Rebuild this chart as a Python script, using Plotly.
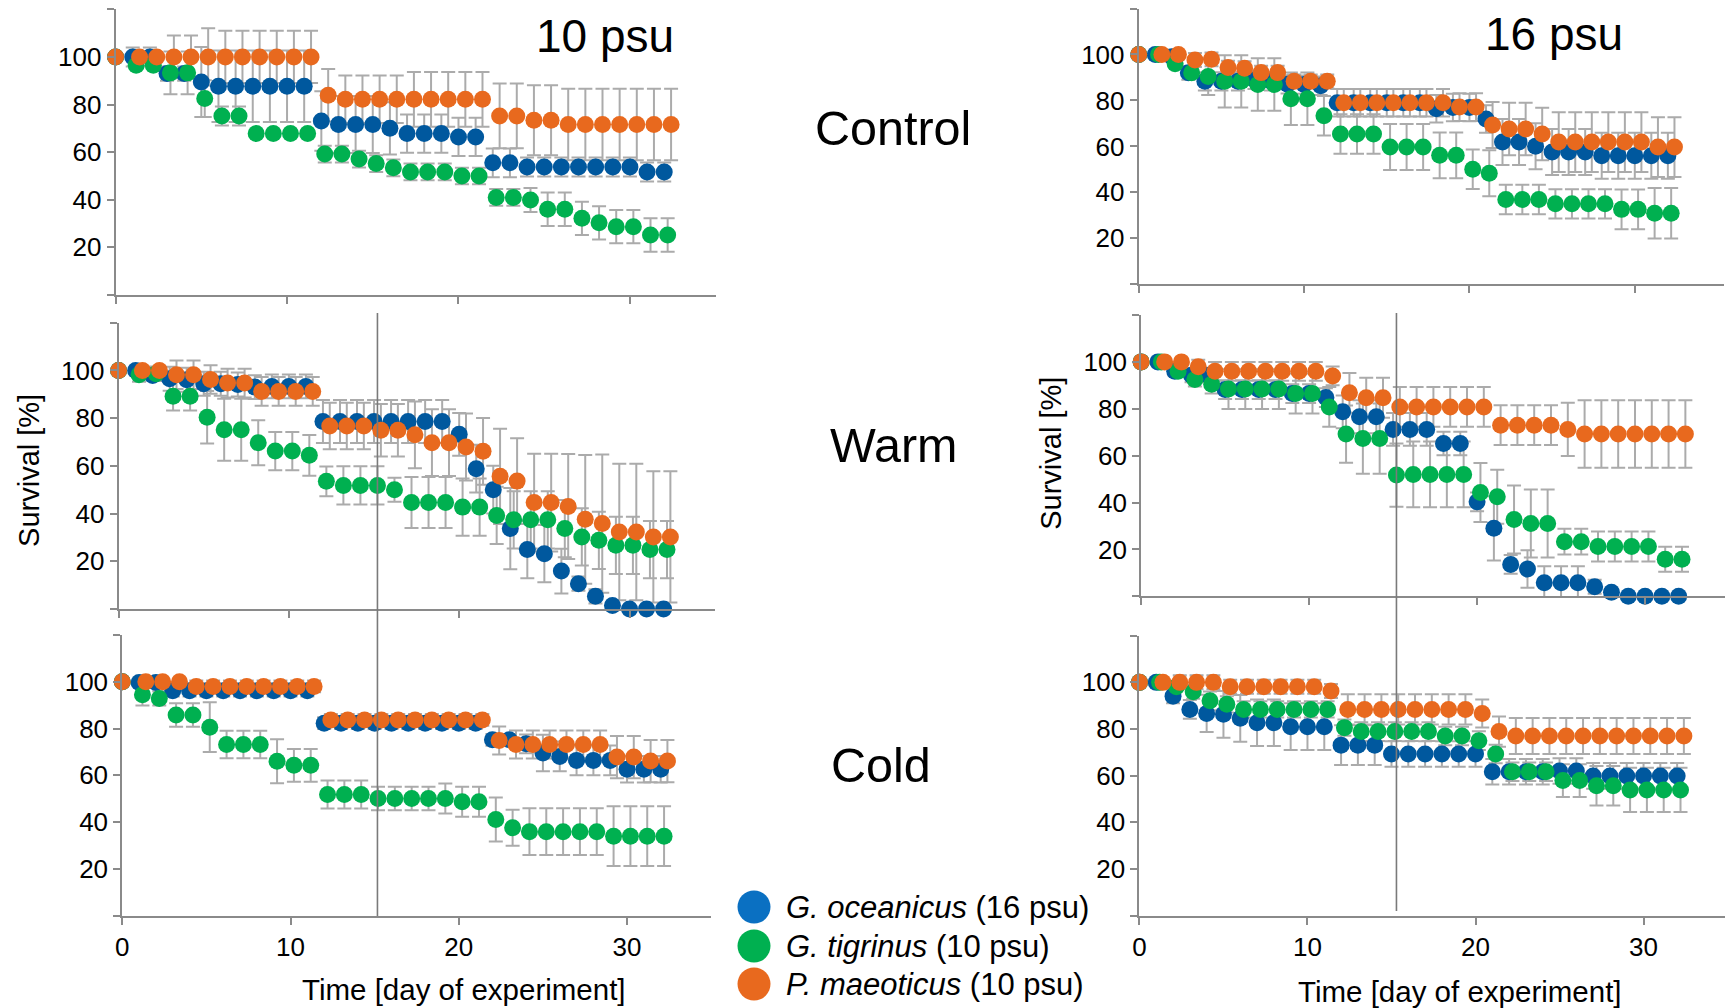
import plotly.graph_objects as go

W, H = 1733, 1008
# the page body adds a small offset; positions below are in target-image pixels
OX, OY = 10, 8

DAYS = list(range(33))
SPECIES = ["G. oceanicus (16 psu)", "G. tigrinus (10 psu)", "P. maeoticus (10 psu)"]
DAY_OFFSET = [0.0, 0.2, 0.4]

# ---------------- Control, 10 psu ----------------
C10_OCE = [100, 100, 100, 93, 93, 89.5, 87.7, 87.7, 87.7, 87.7, 87.7, 87.7, 73.1, 71.6, 71.6, 71.6, 70, 67.8, 67.8, 67.8, 66.4, 66.4, 55.5, 55.5, 53.8, 53.8, 53.8, 53.8, 53.8, 53.8, 53.8, 51.7, 51.7]
C10_TIG = [100, 96.5, 96.5, 93.3, 93.3, 82.5, 75.2, 75.2, 67.8, 67.8, 67.8, 67.8, 59.2, 59.2, 57.1, 55.2, 53.4, 51.7, 51.7, 51.7, 50, 50, 41, 41, 39.9, 36, 36, 32.2, 30.3, 28.7, 28.7, 25.2, 25.2]
C10_MAE = [100, 100, 100, 100, 100, 100, 100, 100, 100, 100, 100, 100, 83.9, 82.2, 82.2, 82.2, 82.2, 82.2, 82.2, 82.2, 82.2, 82.2, 75.2, 75.2, 73.4, 73.4, 71.6, 71.6, 71.6, 71.6, 71.6, 71.6, 71.6]
C10_OCE_ERR = [0, 4, 4, 3, 3, 14.7, 15, 15, 15, 15, 15, 15, 12.5, 12, 12, 12, 11, 8, 8, 8, 8, 8, 6, 6, 4, 4, 4, 4, 4, 4, 4, 4, 4]
C10_TIG_ERR = [0, 1.5, 1.5, 9, 9, 7.7, 4, 4, 0, 0, 0, 0, 3.5, 3.5, 3.5, 3.5, 3.5, 3.5, 3.5, 3.5, 3.5, 3.5, 3.5, 3.5, 5, 7, 7, 7, 7, 7, 7, 7, 7]
C10_MAE_ERR = [0, 0, 0, 9, 9, 12, 11, 11, 11, 11, 11, 11, 11, 10, 10, 10, 10, 11.5, 11.5, 11.5, 11.5, 11.5, 13.6, 13.6, 14.7, 14.7, 15, 15, 15, 15, 15, 15, 15]

# ---------------- Control, 16 psu ----------------
C16_OCE = [100, 100, 99, 92, 88.3, 88.3, 88.3, 89, 88.3, 87, 86.9, 86.4, 79, 79, 79, 79, 79, 79, 76.4, 76.9, 76.9, 71.9, 61.9, 61.9, 60.1, 57.6, 57.6, 57.6, 55.9, 55.9, 55.9, 55.9, 55.9]
C16_TIG = [100, 100, 96, 92, 90.4, 88.3, 88.3, 86.9, 86.9, 80.7, 80.7, 73.3, 65.4, 65.4, 65.4, 59.7, 59.7, 59.7, 56.1, 56.1, 50.1, 48.3, 36.9, 36.9, 36.9, 35, 35, 35, 35, 32.6, 32.6, 30.9, 30.9]
C16_MAE = [100, 100, 100, 97.6, 97.9, 94.3, 94, 92.1, 92.1, 88.3, 88.3, 88.3, 79, 79, 79, 79, 79, 79, 79, 77.1, 77.1, 69.3, 67.6, 67.6, 65.4, 61.9, 61.9, 61.9, 61.9, 61.9, 61.9, 59.7, 59.7]
C16_OCE_ERR = [0, 0, 0, 3, 4, 4, 4, 4, 4, 4, 4, 4, 6, 6, 6, 6, 6, 6, 6, 6, 6, 6, 10, 10, 10, 10, 10, 10, 10, 10, 10, 10, 10]
C16_TIG_ERR = [0, 0, 0, 2, 8, 11.4, 11.4, 11.4, 11.4, 11.4, 11.4, 8.6, 8.6, 8.6, 8.6, 10, 10, 10, 10, 10, 8.6, 10, 6.4, 6.4, 6.4, 6.4, 6.4, 6.4, 6.4, 8.6, 8.6, 11, 11]
C16_MAE_ERR = [0, 0, 0, 3, 3, 3, 3, 3, 3, 3, 3, 3, 6, 6, 6, 6, 6, 6, 6, 6, 6, 10, 11.4, 11.4, 11.4, 13, 13, 13, 13, 13, 13, 13, 13]

# ---------------- Warm, 10 psu ----------------
W10_OCE = [100, 100, 97.9, 96.5, 96.1, 94.4, 94.4, 94.1, 93, 93.3, 93.3, 93.3, 78.6, 78.6, 78.6, 78.6, 78.6, 78.6, 78.6, 78.6, 73.2, 58.8, 50, 33.7, 24.9, 23.2, 15.9, 10.6, 5.3, 1.5, 0, 0, 0]
W10_TIG = [100, 98.2, 98.6, 89.2, 89.2, 80.4, 75.1, 75.1, 69.7, 66.2, 66.2, 64.4, 53.5, 51.8, 51.8, 51.8, 50, 44.6, 44.6, 44.6, 42.7, 42.7, 39.2, 37.4, 37.4, 37.4, 33.7, 30.2, 28.8, 26.7, 26.7, 24.9, 24.9]
W10_MAE = [100, 100, 100, 98.2, 98.2, 96.2, 94.7, 94.7, 91.2, 91.2, 91.2, 91.2, 76.7, 76.7, 76.7, 74.9, 74.9, 73, 69.7, 69.7, 67.9, 66.1, 55.6, 53.6, 44.6, 44.6, 43, 37.6, 35.8, 32.3, 32.3, 30.2, 30.2]
W10_OCE_ERR = [0, 0, 2, 5, 5, 5, 5, 5, 5, 5, 5, 5, 9, 9, 9, 9, 9, 9, 9, 9, 9, 10, 10, 17, 12, 12, 9.4, 3, 3, 0, 0, 0, 0]
W10_TIG_ERR = [0, 3, 3, 6, 6, 11, 13, 13, 9.4, 8, 8, 8.5, 6.2, 8, 8, 8, 5, 10.7, 10.7, 10.7, 12, 12, 12, 12, 12, 12, 12, 12, 12, 12, 12, 12, 12]
W10_MAE_ERR = [0, 0, 0, 6, 6, 6, 6, 6, 6, 6, 6, 6, 9.7, 9.7, 9.7, 11, 11, 14, 14, 14, 14, 14, 20, 18, 20.5, 20.5, 22, 27, 29, 28.6, 28.6, 27.5, 27.5]

# ---------------- Warm, 16 psu ----------------
W16_OCE = [100, 100, 96, 94.3, 94.3, 88.2, 88.2, 88.2, 88.2, 86.5, 86.5, 84.8, 78.7, 76.6, 76.6, 71.2, 71.2, 71.2, 65.2, 65.2, 40.3, 29, 13.6, 11.6, 5.8, 5.8, 5.8, 4.1, 1.7, 0, 0, 0, 0]
W16_TIG = [100, 100, 96, 92.5, 90.5, 88.4, 88.4, 88.4, 88.4, 86.5, 86.5, 80.8, 69.2, 67.3, 67.3, 51.7, 52, 52, 52, 52, 44.3, 42.5, 32.8, 31.1, 31.1, 23.3, 23.3, 21.2, 21.2, 21.2, 21.2, 15.8, 15.8]
W16_MAE = [100, 100, 100, 97.9, 96, 96, 96, 96, 96, 96, 96, 94, 86.8, 84.7, 84.7, 80.8, 80.8, 80.8, 80.8, 80.8, 80.8, 73, 73, 73, 73, 71.2, 69.2, 69.2, 69.2, 69.2, 69.2, 69.2, 69.2]
W16_OCE_ERR = [0, 0, 2, 3, 3, 4, 4, 4, 4, 4, 4, 4, 7, 7, 7, 7, 7, 7, 5, 5, 4, 13.7, 4, 8, 7, 7, 7, 3, 0, 0, 0, 0, 0]
W16_TIG_ERR = [0, 0, 2, 3, 4, 8.5, 8.5, 8.5, 8.5, 8.5, 8.5, 8.5, 12.2, 15, 15, 13.5, 14, 14, 14, 14, 12.6, 11.5, 14.5, 14.5, 14.5, 5.5, 5.5, 6.4, 6.4, 6.4, 6.4, 5.3, 5.3]
W16_MAE_ERR = [0, 0, 0, 3, 4, 4, 4, 4, 4, 4, 4, 4, 8.5, 8.5, 8.5, 8.5, 8.5, 8.5, 8.5, 8.5, 8.5, 8.5, 8.5, 8.5, 8.5, 11.4, 14.4, 14.4, 14.4, 14.4, 14.4, 14.4, 14.4]

# ---------------- Cold, 10 psu ----------------
K10_OCE = [100, 99.7, 99.7, 96.2, 96.2, 96.2, 96.2, 96.2, 96.2, 96.2, 96.2, 96.2, 82.3, 82.3, 82.3, 82.3, 82.3, 82.3, 82.3, 82.3, 82.3, 82.3, 75.2, 75.2, 73.5, 69.6, 68.1, 66.4, 66.4, 66.4, 62.6, 62.6, 62.6]
K10_TIG = [100, 94.5, 92.9, 85.8, 85.8, 80.6, 73.2, 73.2, 73.2, 66, 64.3, 64.3, 51.8, 51.8, 51.8, 50.1, 50.1, 50.1, 50.1, 50.1, 48.7, 48.7, 41.1, 37.6, 35.9, 35.9, 35.9, 35.9, 35.9, 34, 34, 34, 34]
K10_MAE = [100, 100, 100, 100, 98, 98, 98, 98, 98, 98, 98, 98, 83.7, 83.7, 83.7, 83.7, 83.7, 83.7, 83.7, 83.7, 83.7, 83.7, 74.9, 73.2, 73.2, 73.2, 73.2, 73.2, 73.2, 67.8, 67.8, 66.1, 66.1]
K10_OCE_ERR = [0, 0, 0, 2.5, 2.5, 2.5, 2.5, 2.5, 2.5, 2.5, 2.5, 2.5, 2.5, 2.5, 2.5, 2.5, 2.5, 2.5, 2.5, 2.5, 2.5, 2.5, 2.5, 2.5, 4, 7.8, 6.4, 6.4, 6.4, 6.4, 5.7, 5.7, 5.7]
K10_TIG_ERR = [0, 4.6, 3, 5, 5, 10.6, 5.9, 5.9, 5.9, 9.4, 7, 7, 6, 6, 6, 5, 5, 5, 5, 6.4, 6.4, 6.4, 9.4, 7.7, 10, 10, 10, 10, 10, 12.8, 12.8, 12.8, 12.8]
K10_MAE_ERR = [0, 0, 0, 0, 2.5, 2.5, 2.5, 2.5, 2.5, 2.5, 2.5, 2.5, 2.5, 2.5, 2.5, 2.5, 2.5, 2.5, 2.5, 2.5, 2.5, 2.5, 6, 6, 6, 6, 6, 6, 6, 9, 9, 9, 9]

# ---------------- Cold, 16 psu ----------------
K16_OCE = [100, 100, 94.1, 88.4, 86.7, 86.3, 84.6, 82.7, 82.7, 81, 81, 81, 73.1, 73.1, 73.1, 69.3, 69.3, 69.3, 69.3, 69.3, 69.3, 61.7, 61.7, 61.7, 61.7, 62, 62, 59.9, 59.9, 59.9, 59.9, 59.9, 59.9]
K16_TIG = [100, 100, 98.1, 96, 92.1, 90.6, 88.4, 88.4, 88.4, 88.4, 88.4, 88.4, 80.6, 78.9, 78.9, 78.9, 78.9, 78.9, 77, 77, 75, 69.3, 61.7, 61.7, 61.7, 57.9, 57.9, 55.7, 55.7, 53.9, 53.9, 53.9, 53.9]
K16_MAE = [100, 100, 100, 100, 100, 98.1, 98.1, 98.1, 98.1, 98.1, 98.1, 96.3, 88.4, 88.4, 88.4, 88.4, 88.4, 88.4, 88.4, 88.4, 86.7, 78.9, 77, 77, 77, 77, 77, 77, 77, 77, 77, 77, 77]
K16_OCE_ERR = [0, 0, 3, 4, 8, 10, 10, 10, 10, 10, 10, 10, 8.5, 8.5, 8.5, 5.5, 5.5, 5.5, 5.5, 5.5, 5.5, 5.5, 5.5, 5.5, 5.5, 5.5, 5.5, 5.5, 5.5, 5.5, 5.5, 5.5, 5.5]
K16_TIG_ERR = [0, 0, 0, 3, 4, 3.5, 3.5, 3.5, 3.5, 3.5, 3.5, 3.5, 3.5, 4, 4, 4, 4, 4, 4, 4, 4, 4, 4, 4, 4, 7, 7, 8.5, 8.5, 9.5, 9.5, 9.5, 9.5]
K16_MAE_ERR = [0, 0, 3, 3, 3, 3, 3, 3, 3, 3, 3, 3, 6.5, 6.5, 6.5, 6.5, 6.5, 6.5, 6.5, 6.5, 6, 6.5, 7.7, 7.7, 7.7, 7.7, 7.7, 7.7, 7.7, 7.7, 7.7, 7.7, 7.7]

X_TICKS = [0, 10, 20, 30]
Y_TICKS = [0, 20, 40, 60, 80, 100, 120]
Y_TICKTEXT = ["", "20", "40", "60", "80", "100", ""]
TREATMENT_DAY = 15.2

ROW_LABELS = ["Control", "Warm", "Cold"]
COL_LABELS = ["10 psu", "16 psu"]
Y_TITLE = "Survival [%]"
X_TITLE = "Time [day of experiment]"

COLORS = ["#00589E", "#00B050", "#E8691E"]
LEGEND_COLORS = ["#0A70C2", "#00B050", "#E8691E"]
ERR_COLOR = "#ABABAB"
AXIS_COLOR = "#8A8A8A"
FONT = "Liberation Sans, Arial, sans-serif"
TICK_SIZE = 26

panels = [
    # (series, errors, x-domain px, x max, y-domain px (top, bottom), show x labels)
    ((C10_OCE, C10_TIG, C10_MAE), (C10_OCE_ERR, C10_TIG_ERR, C10_MAE_ERR), (111, 713.5), 35, (9.3, 295), False),
    ((C16_OCE, C16_TIG, C16_MAE), (C16_OCE_ERR, C16_TIG_ERR, C16_MAE_ERR), (1138.3, 1726), 35.4, (8.5, 284.3), False),
    ((W10_OCE, W10_TIG, W10_MAE), (W10_OCE_ERR, W10_TIG_ERR, W10_MAE_ERR), (114, 712.5), 35, (322.7, 609), False),
    ((W16_OCE, W16_TIG, W16_MAE), (W16_OCE_ERR, W16_TIG_ERR, W16_MAE_ERR), (1140.7, 1731), 35, (315, 596.3), False),
    ((K10_OCE, K10_TIG, K10_MAE), (K10_OCE_ERR, K10_TIG_ERR, K10_MAE_ERR), (117.7, 709), 35, (635, 915.7), True),
    ((K16_OCE, K16_TIG, K16_MAE), (K16_OCE_ERR, K16_TIG_ERR, K16_MAE_ERR), (1139, 1729.5), 35, (635.7, 915.7), True),
]


def fx(px):
    return (px - OX) / W


def fy(py):
    return 1 - (py - OY) / H


fig = go.Figure()
layout = dict(
    width=W, height=H, margin=dict(l=0, r=0, t=0, b=0),
    paper_bgcolor="white", plot_bgcolor="white", showlegend=False,
    font=dict(family=FONT, color="black"),
)

for i, (series, errs, xd, xmax, yd, showx) in enumerate(panels):
    n = "" if i == 0 else str(i + 1)
    xa, ya = "x" + n, "y" + n
    layout["xaxis" + n] = dict(
        domain=[fx(xd[0]), fx(xd[1])], range=[0, xmax], anchor=ya,
        showline=True, linecolor=AXIS_COLOR, linewidth=2, showgrid=False, zeroline=False,
        tickmode="array", tickvals=X_TICKS, ticks="outside", ticklen=7, tickwidth=2,
        tickcolor=AXIS_COLOR, showticklabels=showx,
        tickfont=dict(size=TICK_SIZE, family=FONT, color="black"),
    )
    layout["yaxis" + n] = dict(
        domain=[fy(yd[1]), fy(yd[0])], range=[0, 120], anchor=xa,
        showline=True, linecolor=AXIS_COLOR, linewidth=2, showgrid=False, zeroline=False,
        tickmode="array", tickvals=Y_TICKS, ticktext=Y_TICKTEXT, ticks="outside", ticklen=7,
        tickwidth=2, tickcolor=AXIS_COLOR,
        tickfont=dict(size=TICK_SIZE, family=FONT, color="black"),
    )
    xs = [[d + off if d > 0 else d for d in DAYS] for off in DAY_OFFSET]
    # error bars first (behind all markers)
    for k in range(3):
        fig.add_trace(go.Scatter(
            x=xs[k], y=series[k], mode="markers", xaxis=xa, yaxis=ya,
            marker=dict(size=2, color="rgba(0,0,0,0)"), hoverinfo="skip",
            error_y=dict(type="data", array=errs[k], visible=True, color=ERR_COLOR, thickness=2, width=7),
            cliponaxis=False,
        ))
    for k in range(3):
        fig.add_trace(go.Scatter(
            x=xs[k], y=series[k], mode="markers", xaxis=xa, yaxis=ya, name=SPECIES[k],
            marker=dict(size=17, color=COLORS[k], line=dict(width=0)), cliponaxis=False,
        ))

shapes = [
    dict(type="line", xref="x3", yref="paper", x0=TREATMENT_DAY, x1=TREATMENT_DAY,
         y0=fy(916), y1=fy(313), line=dict(color="#7A7A7A", width=1.6)),
    dict(type="line", xref="x4", yref="paper", x0=TREATMENT_DAY, x1=TREATMENT_DAY,
         y0=fy(911), y1=fy(313), line=dict(color="#7A7A7A", width=1.6)),
]

annotations = []


def ann(text, px, py, size, xanchor="center", angle=0):
    annotations.append(dict(
        text=text, x=fx(px), y=fy(py), xref="paper", yref="paper", showarrow=False,
        xanchor=xanchor, yanchor="middle", textangle=angle,
        font=dict(size=size, family=FONT, color="black"),
    ))


ann(COL_LABELS[0], 602, 36, 46)
ann(COL_LABELS[1], 1555, 34, 46)
ann(ROW_LABELS[0], 892, 128, 48.5)
ann(ROW_LABELS[1], 893, 445, 48.5)
ann(ROW_LABELS[2], 880, 765, 48.5)
ann(Y_TITLE, 24, 470, 29, angle=-90)
ann(Y_TITLE, 1050, 453, 29, angle=-90)
ann(X_TITLE, 461, 989, 29.5)
ann(X_TITLE, 1461, 991, 29.5)

legend_y = [907, 946, 984]
for k in range(3):
    shapes.append(dict(
        type="circle", xref="paper", yref="paper", xsizemode="pixel", ysizemode="pixel",
        xanchor=fx(752), yanchor=fy(legend_y[k]), x0=-16.5, x1=16.5, y0=-16.5, y1=16.5,
        fillcolor=LEGEND_COLORS[k], line=dict(width=0),
    ))
    genus, rest = SPECIES[k].split(" (")
    ann("<i>" + genus + "</i> (" + rest, 782, legend_y[k], 31, xanchor="left")

layout["shapes"] = shapes
layout["annotations"] = annotations
fig.update_layout(**layout)
fig.write_html("out.html")
